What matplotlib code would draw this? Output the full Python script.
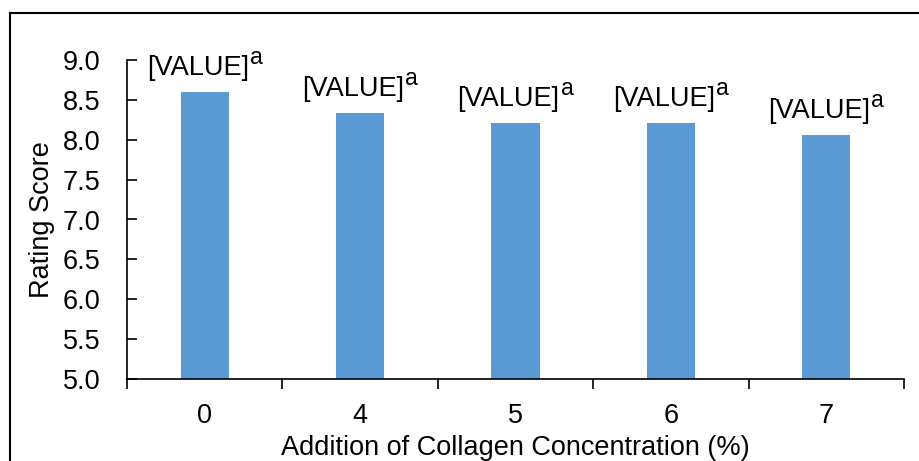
import matplotlib
matplotlib.use("Agg")
import matplotlib.pyplot as plt
from matplotlib.lines import Line2D
import numpy as np

categories = ["0", "4", "5", "6", "7"]
scores = [8.60, 8.34, 8.21, 8.21, 8.06]
labels = ["[VALUE]", "[VALUE]", "[VALUE]", "[VALUE]", "[VALUE]"]
letters = ["a", "a", "a", "a", "a"]
yticks = [5.0, 5.5, 6.0, 6.5, 7.0, 7.5, 8.0, 8.5, 9.0]

plt.rcParams['font.family'] = ['Liberation Sans', 'DejaVu Sans']
FS = 19.5

fig = plt.figure(figsize=(9.19, 4.61), dpi=100)
ax = fig.add_axes([127/919, 1-379/461, (904-127)/919, (379-60)/461])

x = np.arange(len(categories))
ax.bar(x, scores, width=0.31, color="#5B9BD5", bottom=0, zorder=2)
ax.set_ylim(5.0, 9.0)
ax.set_xlim(-0.5, len(categories)-0.5)
ax.set_yticks(yticks)
ax.set_yticklabels([f"{v:.1f}" for v in yticks])
ax.set_xticks(x)
ax.set_xticklabels(categories)
ax.set_xticks(np.arange(len(categories)+1)-0.5, minor=True)

ax.tick_params(axis='y', direction='in', length=7, width=1.2, labelsize=FS, pad=19)
ax.tick_params(axis='x', which='major', length=0, labelsize=FS, pad=17)
ax.tick_params(axis='x', which='minor', direction='out', length=7, width=1.2)

for s in ['top', 'right']:
    ax.spines[s].set_visible(False)
for s in ['left', 'bottom']:
    ax.spines[s].set_linewidth(1.2)

texts = []
for xi, v, lab in zip(x, scores, labels):
    t = ax.annotate(lab, (xi, v), xytext=(-5, 8),
                    textcoords='offset points', ha='center', va='bottom', fontsize=FS,
                    annotation_clip=False)
    texts.append(t)

ax.set_ylabel("Rating Score", fontsize=FS, labelpad=6)
ax.set_xlabel("Addition of Collagen Concentration (%)", fontsize=FS, labelpad=4.5)

# outer frame
fig.add_artist(Line2D([9.5/919, 9.5/919], [0, 1-13/461], transform=fig.transFigure, color='black', lw=1.5))
fig.add_artist(Line2D([9.5/919, 1.0], [1-13/461, 1-13/461], transform=fig.transFigure, color='black', lw=1.5))

fig.canvas.draw()
renderer = fig.canvas.get_renderer()
W = fig.dpi * fig.get_figwidth()
H = fig.dpi * fig.get_figheight()
for t, let in zip(texts, letters):
    bb = t.get_window_extent(renderer)
    fig.text((bb.x1 + 1) / W, (bb.y0 + 17) / H,
             let, fontsize=FS * 0.85, ha='left', va='baseline')

fig.savefig("out.png", dpi=100)
